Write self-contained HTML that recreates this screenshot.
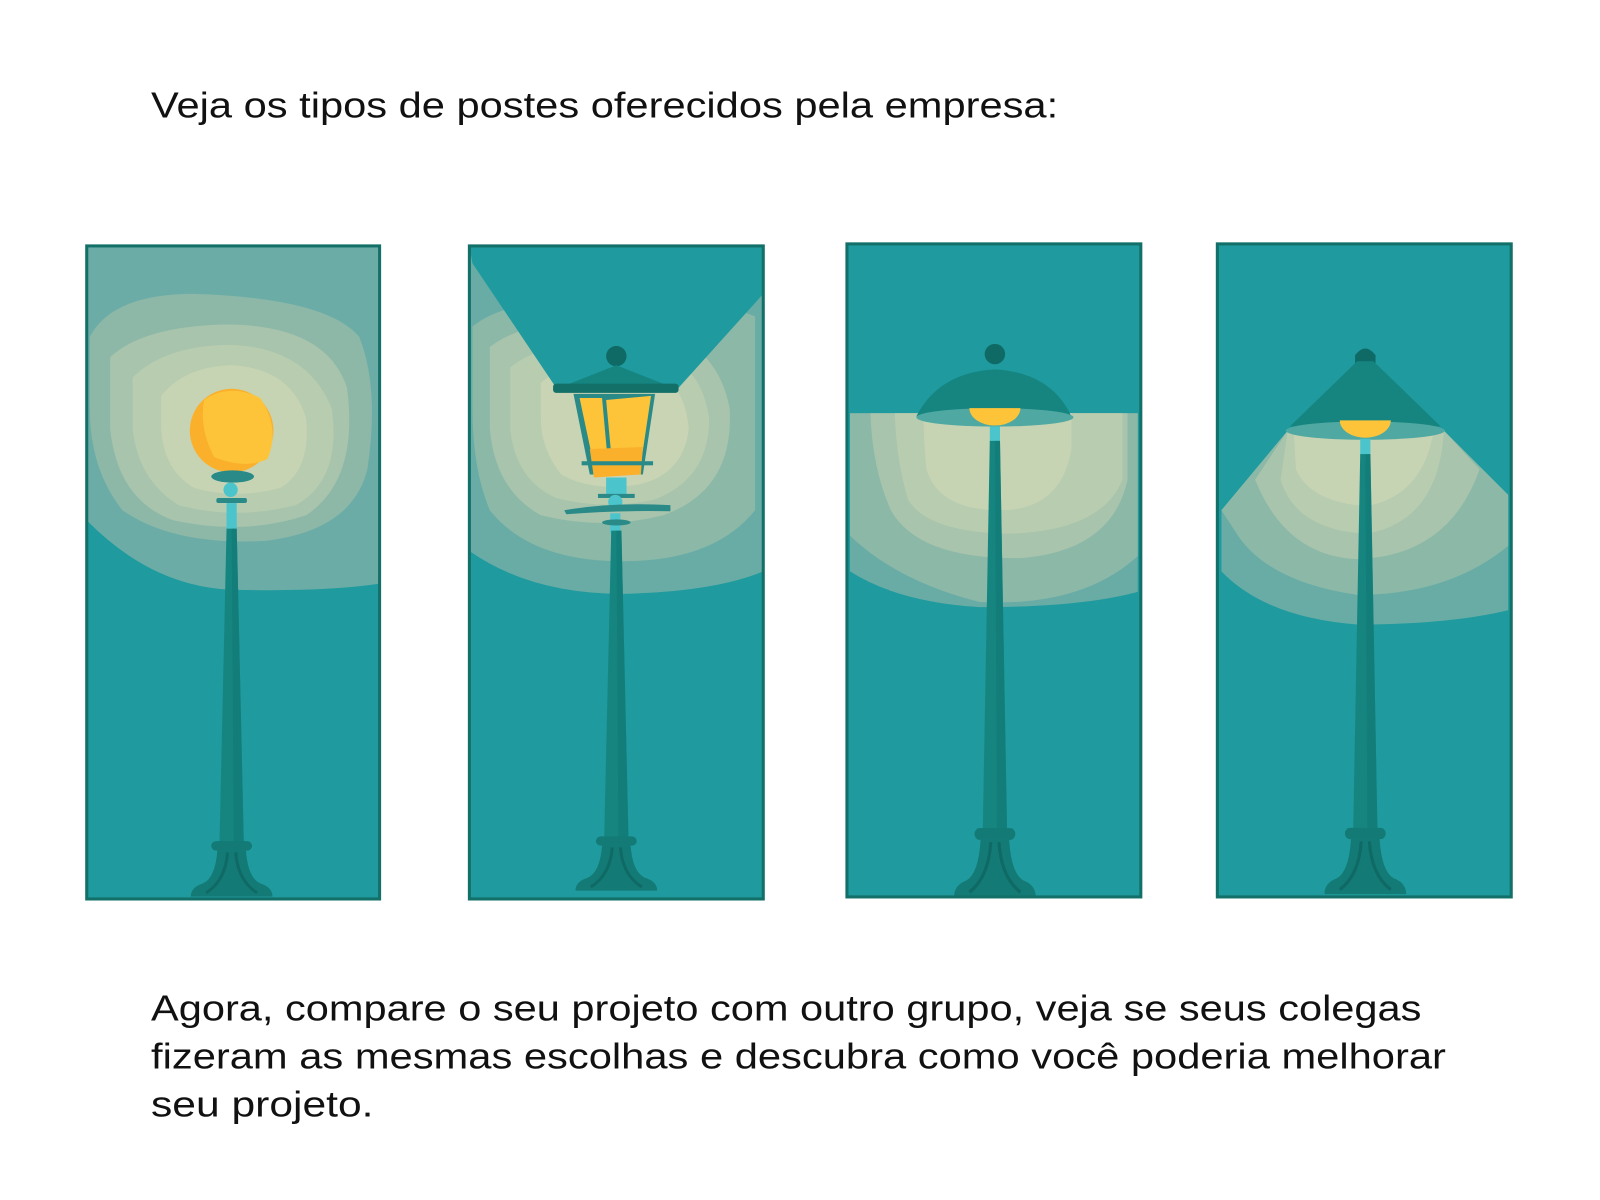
<!DOCTYPE html>
<html><head><meta charset="utf-8"><style>html,body{margin:0;padding:0;background:#fff;}svg{display:block}</style></head>
<body>
<svg width="1600" height="1200" viewBox="0 0 1568 1176" xmlns="http://www.w3.org/2000/svg" font-family="Liberation Sans, sans-serif">
<defs>
<g id="pole">
  <path d="M-5 0 L5 0 L12 340 L-12 340 Z" fill="#168580"/>
  <path d="M0 0 L5 0 L12 340 L2 340 Z" fill="#137a75" opacity="0.6"/>
  <rect x="-20" y="333" width="40" height="10" rx="5" fill="#137a75"/>
  <path d="M-14 343 L14 343 Q16 372 28 378 Q40 382 40 392 L-40 392 Q-40 382 -28 378 Q-16 372 -14 343 Z" fill="#137a75"/>
  <path d="M-4 345 Q-6 375 -25 388 M4 345 Q6 375 25 388" stroke="#0f6a65" stroke-width="3" fill="none"/>
</g>
</defs>
<text x="148" y="115" font-size="35" fill="#111" textLength="889" lengthAdjust="spacingAndGlyphs">Veja os tipos de postes oferecidos pela empresa:</text>

<!-- Panel 1 -->
<g>
<rect x="85" y="241" width="287" height="640" fill="#1f9a9e"/>
<path d="M85 241 H372 V572 Q320 580 230 578 Q150 576 85 510 Z" fill="#6badA6"/>
<path d="M88 330 Q110 288 190 288 Q320 292 352 330 Q372 380 360 460 Q345 520 260 530 Q170 535 120 500 Q88 460 88 400 Z" fill="#8db8a8"/>
<path d="M108 350 Q140 320 220 318 Q320 318 340 380 Q352 470 300 505 Q240 525 170 510 Q115 490 108 420 Z" fill="#a8c4ac"/>
<path d="M130 370 Q160 340 220 338 Q300 338 325 400 Q335 470 290 495 Q230 510 175 495 Q135 470 130 420 Z" fill="#b8ccb0"/>
<path d="M158 388 Q180 360 225 358 Q285 360 300 410 Q305 460 275 478 Q230 490 190 478 Q160 460 158 420 Z" fill="#c6d4b4"/>
<circle cx="227" cy="422" r="41" fill="#fbb02b"/>
<path d="M200 392 Q225 375 255 390 Q275 420 262 450 Q240 460 210 448 Q195 420 200 392 Z" fill="#fdc43a"/>
<ellipse cx="228" cy="467" rx="21" ry="6" fill="#2a8a88"/>
<circle cx="226" cy="480" r="7" fill="#4cc4cc"/>
<rect x="212" y="488" width="30" height="5" rx="2" fill="#2a8a88"/>
<rect x="222" y="493" width="10" height="25" fill="#4cc4cc"/>
<g transform="translate(227 518) scale(1,0.92) translate(-227 -518)"><use href="#pole" x="227" y="518"/></g>
<rect x="85" y="241" width="287" height="640" fill="none" stroke="#137068" stroke-width="3"/>
</g>

<!-- Panel 2 -->
<g>
<rect x="460" y="241" width="288" height="640" fill="#1f9a9e"/>
<path d="M460 241 H748 V560 Q700 580 610 582 Q520 582 460 540 Z" fill="#68aca5"/>
<path d="M463 320 Q500 290 580 300 Q690 290 740 310 V500 Q700 550 610 550 Q520 550 480 500 Q463 460 463 400 Z" fill="#8cb8a8"/>
<path d="M480 340 Q520 310 600 315 Q700 320 715 400 Q720 480 650 505 Q590 520 530 505 Q485 480 480 420 Z" fill="#a8c4ac"/>
<path d="M500 360 Q540 330 605 333 Q685 340 695 410 Q695 470 640 490 Q590 500 545 488 Q505 470 500 420 Z" fill="#b8ccb0"/>
<path d="M530 375 Q560 350 610 352 Q670 360 675 420 Q670 465 625 475 Q580 482 550 465 Q530 440 530 410 Z" fill="#c8d4b4"/>
<path d="M463 258 L545 380 L665 380 L748 288 V241 H460 Z" fill="#1f9a9e"/>
<circle cx="604" cy="349" r="10" fill="#0f6a66"/>
<path d="M604 358 L548 380 L660 380 Z" fill="#168580"/>
<rect x="542" y="376" width="123" height="9" rx="3" fill="#137068"/>
<path d="M562 386 L642 386 L630 465 L578 465 Z" fill="#2a8a88"/>
<path d="M568 390 L590 390 L596 456 L582 456 Z" fill="#fdc43a"/>
<path d="M594 392 L638 388 L628 455 L600 456 Z" fill="#fdc43a"/>
<path d="M578 440 L630 438 L628 465 L582 468 Z" fill="#fbb02b"/>
<rect x="570" y="452" width="70" height="4" fill="#2a8a88"/>
<rect x="594" y="468" width="20" height="20" fill="#4cc4cc"/>
<rect x="586" y="484" width="36" height="4" fill="#2a8a88"/>
<circle cx="603" cy="492" r="7" fill="#4cc4cc"/>
<path d="M553 500 Q600 492 657 495 L657 501 Q600 500 555 504 Z" fill="#2a8a88"/>
<rect x="598" y="503" width="10" height="20" fill="#4cc4cc"/>
<ellipse cx="604" cy="512" rx="14" ry="3" fill="#2a8a88"/>
<g transform="translate(604 520) scale(1,0.9) translate(-604 -520)"><use href="#pole" x="604" y="520"/></g>
<rect x="460" y="241" width="288" height="640" fill="none" stroke="#137068" stroke-width="3"/>
</g>

<!-- Panel 3 -->
<g>
<rect x="830" y="239" width="288" height="640" fill="#1f9a9e"/>
<path d="M833 405 H1115 V580 Q1060 595 960 595 Q880 590 833 560 Z" fill="#68aca5"/>
<path d="M833 405 H1115 V545 Q1060 595 960 590 Q880 570 833 525 Z" fill="#8cb8a8"/>
<path d="M853 405 H1105 V470 Q1090 540 1000 547 Q900 548 873 500 Q855 460 853 405 Z" fill="#a8c4ac"/>
<path d="M877 405 H1100 V470 Q1080 520 990 523 Q910 522 890 490 Q878 450 877 405 Z" fill="#b8ccb0"/>
<path d="M905 405 H1050 V440 Q1040 500 980 500 Q920 500 908 460 Q905 430 905 405 Z" fill="#c6d4b4"/>
<circle cx="975" cy="347" r="10" fill="#0f6a66"/>
<path d="M898 408 Q920 365 975 362 Q1030 365 1050 408 Z" fill="#168580"/>
<ellipse cx="975" cy="409" rx="77" ry="9" fill="#50a8a2"/>
<path d="M950 400 A25 17 0 0 0 1000 400 Z" fill="#fdc43a"/>
<rect x="970" y="418" width="10" height="16" fill="#4cc4cc"/>
<g transform="translate(975 432) scale(1,1.14) translate(-975 -432)"><use href="#pole" x="975" y="432"/></g>
<rect x="830" y="239" width="288" height="640" fill="none" stroke="#137068" stroke-width="3"/>
</g>

<!-- Panel 4 -->
<g>
<rect x="1193" y="239" width="288" height="640" fill="#1f9a9e"/>
<path d="M1262 422 L1415 422 L1478 485 V598 Q1420 612 1330 612 Q1240 605 1197 560 V500 Z" fill="#68aca5"/>
<path d="M1262 422 L1415 422 L1478 485 V535 Q1420 583 1330 583 Q1240 570 1210 520 L1197 500 Z" fill="#8cb8a8"/>
<path d="M1262 422 L1415 422 L1450 460 Q1420 545 1330 548 Q1260 545 1230 470 Z" fill="#a8c4ac"/>
<path d="M1262 422 L1415 422 Q1410 510 1340 523 Q1270 520 1255 470 Z" fill="#b8ccb0"/>
<path d="M1268 422 L1405 422 Q1395 485 1340 496 Q1285 493 1270 460 Z" fill="#c6d4b4"/>
<path d="M1328 348 Q1338 335 1348 348 L1348 356 L1328 356 Z" fill="#0f6a66"/>
<path d="M1330 354 L1346 354 L1412 418 L1264 418 Z" fill="#168580"/>
<ellipse cx="1338" cy="422" rx="78" ry="9" fill="#50a8a2"/>
<path d="M1313 412 A25 17 0 0 0 1363 412 Z" fill="#fdc43a"/>
<rect x="1333" y="430" width="10" height="16" fill="#4cc4cc"/>
<g transform="translate(1338 445) scale(1,1.1) translate(-1338 -445)"><use href="#pole" x="1338" y="445"/></g>
<rect x="1193" y="239" width="288" height="640" fill="none" stroke="#137068" stroke-width="3"/>
</g>

<text x="148" y="1000" font-size="35" fill="#111" textLength="1245" lengthAdjust="spacingAndGlyphs">Agora, compare o seu projeto com outro grupo, veja se seus colegas</text>
<text x="148" y="1047" font-size="35" fill="#111" textLength="1269" lengthAdjust="spacingAndGlyphs">fizeram as mesmas escolhas e descubra como você poderia melhorar</text>
<text x="148" y="1094" font-size="35" fill="#111" textLength="218" lengthAdjust="spacingAndGlyphs">seu projeto.</text>
</svg>
</body></html>
